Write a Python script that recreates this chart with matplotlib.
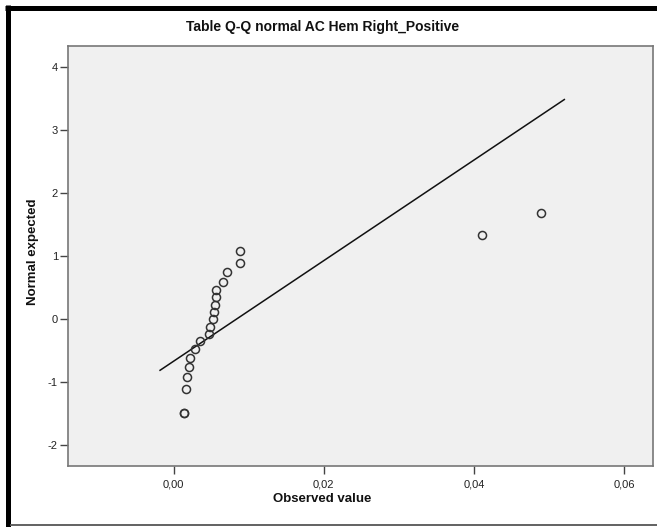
import matplotlib
matplotlib.use("Agg")
import matplotlib.pyplot as plt
from matplotlib.lines import Line2D
from matplotlib.ticker import FuncFormatter
from matplotlib import font_manager

# ---- data ----
observed = [0.00137, 0.00139, 0.00159, 0.00185, 0.00204, 0.00225, 0.00279, 0.00355,
            0.00465, 0.00488, 0.00524, 0.00541, 0.00545, 0.00559, 0.00564,
            0.00652, 0.00715, 0.00879, 0.00879, 0.0411, 0.0489]
expected = [-1.49, -1.49, -1.10, -0.91, -0.75, -0.61, -0.47, -0.35,
            -0.24, -0.12, 0.00, 0.11, 0.23, 0.35, 0.46,
            0.60, 0.75, 0.90, 1.09, 1.34, 1.69]
line_x = [-0.0018, 0.0520]
line_y = [-0.81, 3.49]
x_ticks = [0.00, 0.02, 0.04, 0.06]
y_ticks = [-2, -1, 0, 1, 2, 3, 4]
title = "Table Q-Q normal AC Hem Right_Positive"
xlabel = "Observed value"
ylabel = "Normal expected"

W, H = 657, 527
names = {f.name for f in font_manager.fontManager.ttflist}
narrow = "Liberation Sans Narrow" if "Liberation Sans Narrow" in names else "Liberation Sans"
plt.rcParams['font.family'] = ['Liberation Sans', 'DejaVu Sans']

fig = plt.figure(figsize=(W / 100, H / 100), dpi=100)
fig.patch.set_facecolor("white")
ax = fig.add_axes([68 / W, (H - 466) / H, (653 - 68) / W, (466 - 46) / H])
ax.set_facecolor("#f0f0f0")

ax.plot(line_x, line_y, color="#111111", lw=1.1, zorder=2)
ax.plot(observed, expected, linestyle="none", marker="o", markersize=5.8,
        markerfacecolor="none", markeredgecolor="#333333", markeredgewidth=1.1, zorder=3)

ax.set_xlim(-0.01405, 0.0638)
ax.set_ylim(-2.33, 4.34)
ax.set_xticks(x_ticks)
ax.set_yticks(y_ticks)
ax.xaxis.set_major_formatter(FuncFormatter(lambda v, p: f"{v:.2f}".replace(".", ",")))
ax.yaxis.set_major_formatter(FuncFormatter(lambda v, p: f"{int(round(v))}"))
ax.tick_params(axis="both", direction="out", length=6, width=1, color="#444444",
               labelsize=8, labelcolor="#222222")
ax.tick_params(axis="y", pad=1.2)
ax.tick_params(axis="x", pad=4)
for s in ax.spines.values():
    s.set_color("#777777")
    s.set_linewidth(1.2)

fig.text(323 / W, 1 - 27 / H, title, ha="center", va="center",
         fontsize=10, fontweight="bold", family=[narrow, 'DejaVu Sans'], color="#111111")
fig.text(322 / W, 1 - 499 / H, xlabel, ha="center", va="center",
         fontsize=9.5, fontweight="bold", family=[narrow, 'DejaVu Sans'], color="#111111")
fig.text(33 / W, 1 - 252 / H, ylabel, ha="center", va="center", rotation=90,
         fontsize=9.5, fontweight="bold", family=[narrow, 'DejaVu Sans'], color="#111111")

# frame lines around the chart image
fig.add_artist(Line2D([7.5 / W, 7.5 / W], [0, 1 - 5 / H], transform=fig.transFigure,
                      color="black", lw=3.6, solid_capstyle="butt"))
fig.add_artist(Line2D([5 / W, 1], [1 - 7.5 / H, 1 - 7.5 / H], transform=fig.transFigure,
                      color="black", lw=3.6, solid_capstyle="butt"))
fig.add_artist(Line2D([10 / W, 1], [1 - 525 / H, 1 - 525 / H], transform=fig.transFigure,
                      color="#555555", lw=1.3, solid_capstyle="butt"))

fig.savefig("out.png", dpi=100, facecolor="white")
